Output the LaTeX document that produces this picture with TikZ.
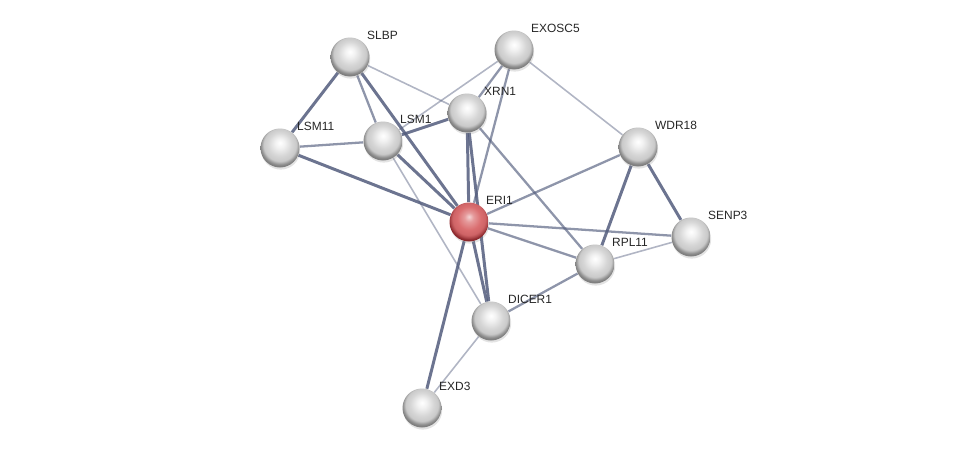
\documentclass[tikz,border=0pt]{standalone}
\usepackage{fontspec}
\newfontfamily\lblfont{Liberation Sans}
\usetikzlibrary{shadows,backgrounds}
\definecolor{edgec}{RGB}{82,92,124}
\definecolor{redmid}{RGB}{218,110,112}
\definecolor{redrim}{RGB}{140,40,45}
\pgfdeclareradialshading{greyball}{\pgfpoint{0bp}{7bp}}{%
  color(0bp)=(white); color(6bp)=(white!90!gray);
  color(15bp)=(white!68!gray); color(21bp)=(white!58!gray);
  color(24bp)=(white!20!gray); color(26bp)=(gray);
  color(50bp)=(gray)}
\pgfdeclareradialshading{redball}{\pgfpoint{0bp}{7bp}}{%
  color(0bp)=(white!70!redmid); color(6bp)=(white!30!redmid);
  color(15bp)=(redmid); color(21bp)=(redmid!85!redrim);
  color(24bp)=(redmid!40!redrim); color(26bp)=(redrim);
  color(50bp)=(redrim)}
\tikzset{
  ball/.style={circle,minimum size=0.78cm,inner sep=0pt,
    shading=greyball,
    drop shadow={opacity=0.22,shadow xshift=0.4pt,shadow yshift=-1.2pt}},
  query/.style={ball,shading=redball},
  lbl/.style={font=\lblfont\fontsize{6.8}{8}\selectfont,inner sep=1pt,text=black!85},
  strong/.style={draw=edgec,line width=1.7pt,opacity=0.85},
  mid/.style={draw=edgec,line width=1.3pt,opacity=0.65},
  weak/.style={draw=edgec,line width=0.9pt,opacity=0.45},
}

\begin{document}
\begin{tikzpicture}[
  x=0.02cm,y=-0.02cm,
  label distance=0.03cm,
  every label/.style={lbl}
]
\useasboundingbox (0,0) rectangle (975,454);

\node[ball,label=45:SLBP] (slbp) at (350,57) {};
\node[ball,label=45:EXOSC5] (exosc5) at (514,50) {};
\node[ball,label=45:XRN1] (xrn1) at (467,113) {};
\node[ball,label=45:LSM1] (lsm1) at (383,141) {};
\node[ball,label=45:LSM11] (lsm11) at (280,148) {};
\node[ball,label=45:WDR18] (wdr18) at (638,147) {};
\node[query,label=45:ERI1] (eri1) at (469,222) {};
\node[ball,label=45:SENP3] (senp3) at (691,237) {};
\node[ball,label=45:RPL11] (rpl11) at (595,264) {};
\node[ball,label=45:DICER1] (dicer1) at (491,321) {};
\node[ball,label=45:EXD3] (exd3) at (422,408) {};

\begin{scope}[on background layer]
\path
(slbp) edge[strong] (lsm11)
(slbp) edge[mid] (lsm1)
(slbp) edge[strong] (eri1)
(slbp) edge[weak] (xrn1)
(lsm11) edge[mid] (lsm1)
(lsm11) edge[strong] (eri1)
(lsm1) edge[strong] (xrn1)
(lsm1) edge[weak] (exosc5)
(lsm1) edge[strong] (eri1)
(lsm1) edge[weak] (dicer1)
(xrn1) edge[mid] (exosc5)
(xrn1) edge[strong] (eri1)
(xrn1) edge[strong] (dicer1)
(xrn1) edge[mid] (rpl11)
(exosc5) edge[mid] (eri1)
(exosc5) edge[weak] (wdr18)
(eri1) edge[mid] (wdr18)
(eri1) edge[mid] (senp3)
(eri1) edge[mid] (rpl11)
(eri1) edge[strong] (dicer1)
(eri1) edge[strong] (exd3)
(wdr18) edge[strong] (senp3)
(wdr18) edge[strong] (rpl11)
(rpl11) edge[weak] (senp3)
(rpl11) edge[mid] (dicer1)
(dicer1) edge[weak] (exd3);
\end{scope}

\end{tikzpicture}
\end{document}
